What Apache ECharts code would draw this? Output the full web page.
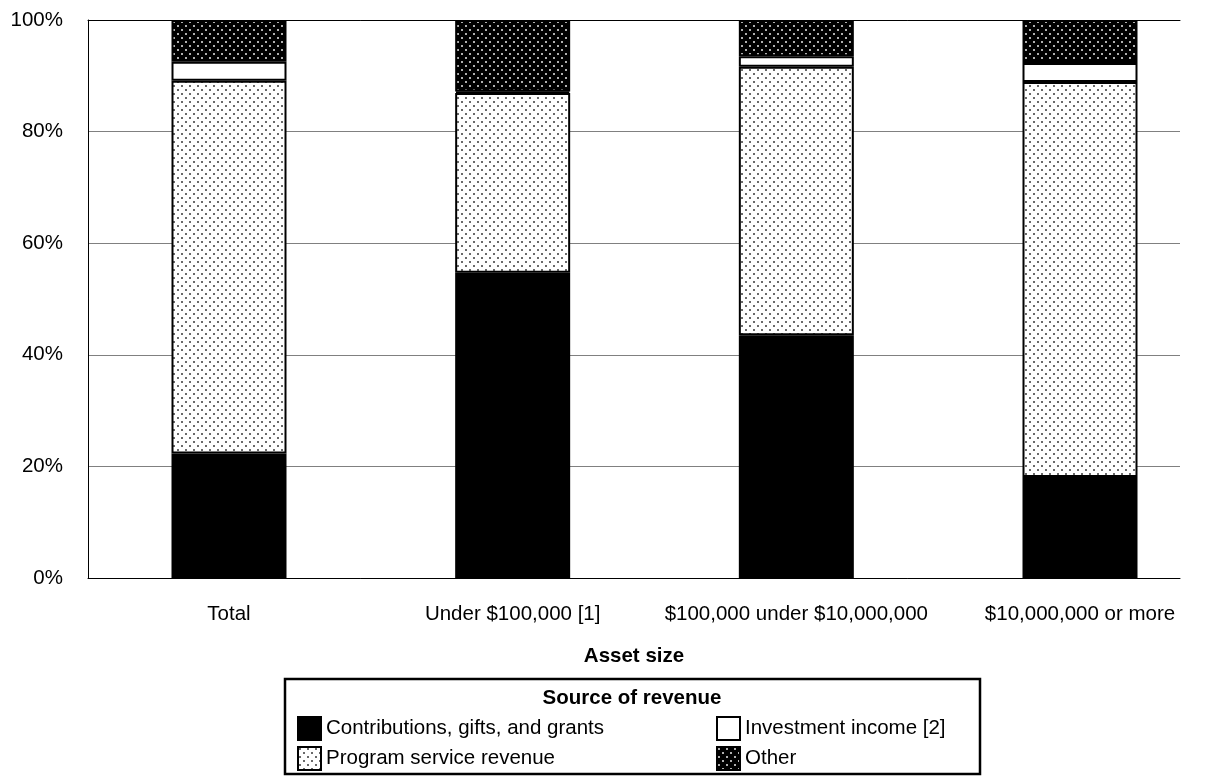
<!DOCTYPE html>
<html><head><meta charset="utf-8">
<script src="https://cdn.jsdelivr.net/npm/echarts@6/dist/echarts.min.js"></script>
<style>html,body{margin:0;padding:0;background:#fff}#c{width:1212px;height:776px}</style>
</head><body><div id="c"></div>
<script>
const categories = ['Total', 'Under $100,000 [1]', '$100,000 under $10,000,000', '$10,000,000 or more'];
const contributions = [22.3, 54.7, 43.5, 18.1];
const programService = [66.8, 32.2, 48.1, 70.8];
const investment = [3.4, 0.3, 1.9, 3.4];
const other = [7.5, 12.8, 6.5, 7.7];
const yTicks = [0, 20, 40, 60, 80, 100];

function makePattern(bg, dot) {
  const c = document.createElement('canvas');
  c.width = 8; c.height = 8;
  const g = c.getContext('2d');
  g.fillStyle = bg; g.fillRect(0, 0, 8, 8);
  g.fillStyle = dot;
  g.fillRect(1, 1, 2, 2);
  g.fillRect(5, 5, 2, 2);
  return c;
}
const progPat = { image: makePattern('#ffffff', '#6a6a6a'), repeat: 'repeat' };
const otherPat = { image: makePattern('#000000', '#b0b0b0'), repeat: 'repeat' };

const chart = echarts.init(document.getElementById('c'), null, { renderer: 'canvas' });
const font = 'Arial, "Liberation Sans", sans-serif';
const FS = 20.5;
function bar(name, data, color) {
  return { type: 'bar', stack: 's', name, data, barWidth: 115, xAxisIndex: 2, yAxisIndex: 1, clip: false,
    itemStyle: { color, borderColor: '#000', borderWidth: 2 } };
}
chart.setOption({
  animation: false,
  grid: [
    { left: 88, right: 32, top: 20, bottom: 198 },
    { left: 229, right: 132, top: 20, bottom: 198 }
  ],
  xAxis: [{
    gridIndex: 0, type: 'category', data: categories,
    axisLine: { lineStyle: { color: '#000', width: 1 } },
    axisTick: { show: false }, axisLabel: { show: false },
    name: 'Asset size', nameLocation: 'middle', nameGap: 68,
    nameTextStyle: { color: '#000', fontSize: FS, fontWeight: 'bold', fontFamily: font }
  }, {
    gridIndex: 0, type: 'category', data: categories, position: 'top',
    axisLine: { lineStyle: { color: '#000', width: 1 } },
    axisTick: { show: false }, axisLabel: { show: false }
  }, {
    gridIndex: 1, type: 'category', data: categories, boundaryGap: false,
    axisLine: { show: false }, axisTick: { show: false }, splitLine: { show: false },
    axisLabel: { color: '#000', fontSize: FS, fontFamily: font, margin: 26, interval: 0 }
  }],
  yAxis: [{
    gridIndex: 0, type: 'value', min: 0, max: 100, interval: 20,
    axisLine: { show: true, lineStyle: { color: '#000', width: 1 } },
    axisTick: { show: false },
    splitLine: { lineStyle: { color: '#808080', width: 1 } },
    axisLabel: { color: '#000', fontSize: FS, fontFamily: font, margin: 25,
      formatter: v => yTicks.includes(v) ? v + '%' : '' }
  }, {
    gridIndex: 1, type: 'value', min: 0, max: 100, interval: 20, show: false,
    splitLine: { show: false }
  }],
  legend: [{
    orient: 'vertical', left: 297, top: 716, itemGap: 5, itemWidth: 23, itemHeight: 23, icon: 'rect',
    data: ['Contributions, gifts, and grants', 'Program service revenue'],
    textStyle: { color: '#000', fontSize: FS, fontFamily: font },
    selectedMode: false, padding: 0
  }, {
    orient: 'vertical', left: 716, top: 716, itemGap: 5, itemWidth: 23, itemHeight: 23, icon: 'rect',
    data: ['Investment income [2]', 'Other'],
    textStyle: { color: '#000', fontSize: FS, fontFamily: font },
    selectedMode: false, padding: 0
  }],
  graphic: [{
    type: 'rect', shape: { x: 285, y: 679, width: 695, height: 95 },
    style: { fill: 'none', stroke: '#000', lineWidth: 2.5 }, silent: true
  }, {
    type: 'text', x: 632, y: 698,
    style: { text: 'Source of revenue', fill: '#000', font: 'bold ' + FS + 'px ' + font, textAlign: 'center', textVerticalAlign: 'middle' }
  }],
  series: [
    bar('Contributions, gifts, and grants', contributions, '#000'),
    bar('Program service revenue', programService, progPat),
    bar('Investment income [2]', investment, '#fff'),
    bar('Other', other, otherPat)
  ]
});
</script></body></html>
